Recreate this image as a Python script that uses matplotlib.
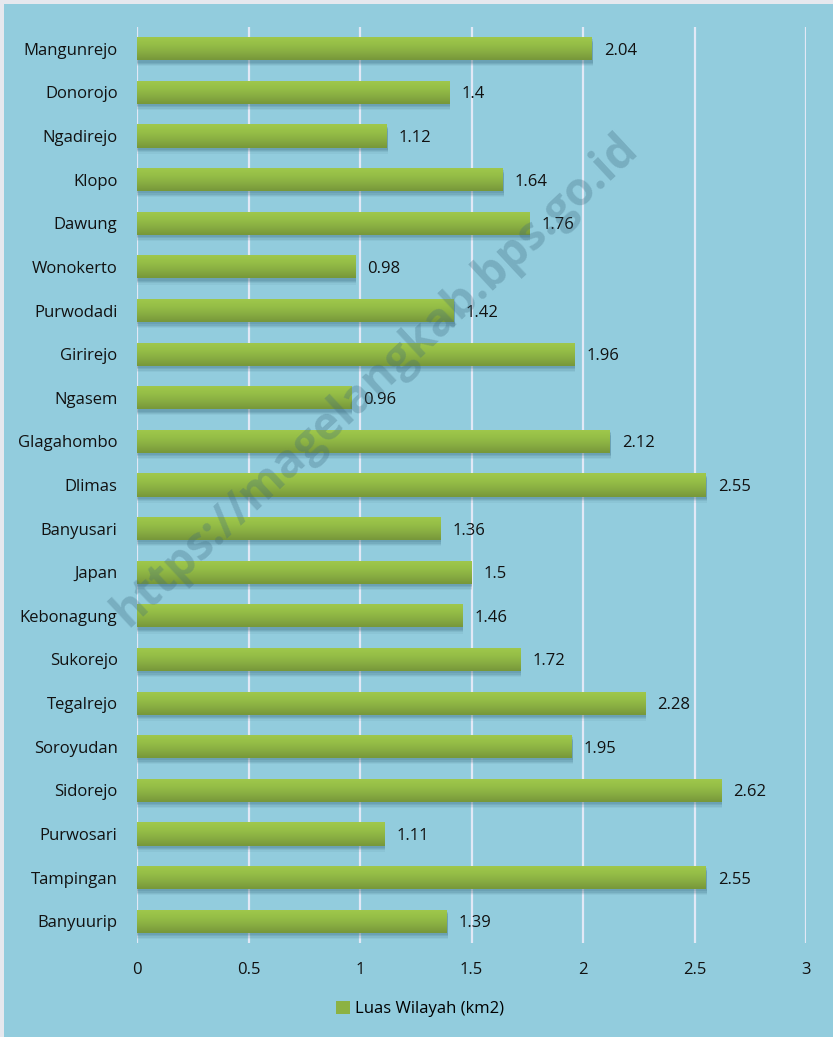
import numpy as np
import matplotlib
matplotlib.use("Agg")
import matplotlib.pyplot as plt
from matplotlib.patches import Rectangle
from matplotlib.colors import LinearSegmentedColormap

villages = ['Mangunrejo', 'Donorojo', 'Ngadirejo', 'Klopo', 'Dawung', 'Wonokerto',
            'Purwodadi', 'Girirejo', 'Ngasem', 'Glagahombo', 'Dlimas', 'Banyusari',
            'Japan', 'Kebonagung', 'Sukorejo', 'Tegalrejo', 'Soroyudan', 'Sidorejo',
            'Purwosari', 'Tampingan', 'Banyuurip']
luas = [2.04, 1.4, 1.12, 1.64, 1.76, 0.98, 1.42, 1.96, 0.96, 2.12, 2.55, 1.36,
        1.5, 1.46, 1.72, 2.28, 1.95, 2.62, 1.11, 2.55, 1.39]
value_labels = ['2.04', '1.4', '1.12', '1.64', '1.76', '0.98', '1.42', '1.96', '0.96',
                '2.12', '2.55', '1.36', '1.5', '1.46', '1.72', '2.28', '1.95', '2.62',
                '1.11', '2.55', '1.39']
x_ticks = [0, 0.5, 1, 1.5, 2, 2.5, 3]
x_tick_labels = ['0', '0.5', '1', '1.5', '2', '2.5', '3']
series_name = 'Luas Wilayah (km2)'

BG = '#92CCDD'
plt.rcParams['font.family'] = ['Open Sans', 'DejaVu Sans']

W, H = 833, 1037
fig = plt.figure(figsize=(W / 100, H / 100), dpi=100, facecolor='#E6E8EE')
fig.patches.append(Rectangle((4 / W, 0), 1, 1 - 4 / H, transform=fig.transFigure,
                             facecolor=BG, edgecolor='none', zorder=-10))

ax = fig.add_axes([137 / W, 1 - 943 / H, (806 - 137) / W, (943 - 27) / H])
ax.set_facecolor('none')

y = np.arange(len(villages))
bh = 0.53

# soft shadow under the bars
for off, a in [(0.14, 0.08), (0.11, 0.12), (0.08, 0.16), (0.05, 0.16)]:
    ax.barh(y + off, [v + 0.004 for v in luas], height=bh, color='#3b6a80',
            alpha=a, zorder=2, linewidth=0)

bars = ax.barh(y, luas, height=bh, color='#8CB243', zorder=3, linewidth=0,
               label=series_name)

cmap = LinearSegmentedColormap.from_list('grn', ['#A0C84C', '#96BF47', '#88AD42', '#77973A'])
grad = np.linspace(0, 1, 64).reshape(-1, 1)
for b in bars:
    x0, y0, w, h = b.get_x(), b.get_y(), b.get_width(), b.get_height()
    im = ax.imshow(grad, cmap=cmap, aspect='auto', extent=(x0, x0 + w, y0 + h, y0),
                   zorder=4, interpolation='bilinear')
    im.set_clip_path(b)

for yi, v, lab in zip(y, luas, value_labels):
    ax.annotate(lab, (v, yi), xytext=(12, 0), textcoords='offset pixels',
                ha='left', va='center_baseline', fontsize=12, color='#111111', zorder=5)

ax.set_xlim(0, 3)
ax.set_ylim(len(villages) - 0.5, -0.5)
ax.set_xticks(x_ticks)
ax.set_xticklabels(x_tick_labels)
ax.set_yticks(y)
ax.set_yticklabels(villages, va='center_baseline')
ax.tick_params(axis='both', length=0, labelsize=12, colors='#111111')
ax.tick_params(axis='y', pad=14)
ax.tick_params(axis='x', pad=14)
ax.grid(axis='x', color='#E2E8F6', linewidth=1.6, zorder=1)
ax.grid(axis='y', visible=False)
ax.set_axisbelow(True)
for s in ax.spines.values():
    s.set_visible(False)

fig.legend(handles=[bars], loc='center', bbox_to_anchor=(420 / W, 1 - 1009 / H),
           frameon=False, fontsize=12, handlelength=0.8, handleheight=0.8,
           handletextpad=0.3)

fig.text(375 / W, 1 - 380 / H, 'https://magelangkab.bps.go.id', rotation=43,
         ha='center', va='center', fontsize=33, fontweight='bold',
         color='#3d6a7e', alpha=0.3, zorder=10)

fig.savefig('out.png', dpi=100, facecolor=fig.get_facecolor())
